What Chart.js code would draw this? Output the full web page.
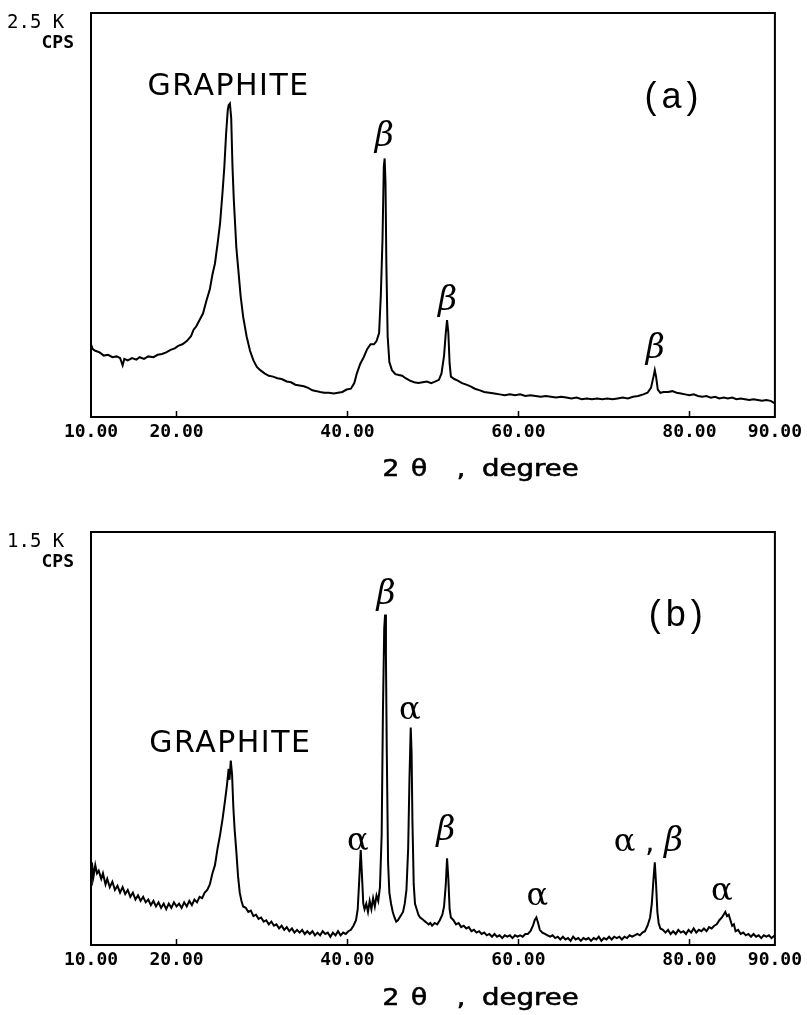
<!DOCTYPE html>
<html><head><meta charset="utf-8">
<script src="https://cdn.jsdelivr.net/npm/chart.js@4.4.0/dist/chart.umd.min.js"></script>
<style>
html,body{margin:0;padding:0;background:#fff;}
#wrap{position:relative;width:807px;height:1015px;overflow:hidden;}
canvas{position:absolute;left:0;}
#ca{top:0;}
#cb{top:500px;}
</style></head><body>
<div id="wrap"><canvas id="ca" width="807" height="500"></canvas><canvas id="cb" width="807" height="515"></canvas></div>
<script>
// ---- tick labels ----
const xTickValues = [10, 20, 40, 60, 80, 90];
const xTickLabels = ['10.00', '20.00', '40.00', '60.00', '80.00', '90.00'];
const yMaxA = 2.5;   // K CPS
const yMaxB = 1.5;   // K CPS

// ---- panel (a): 2θ (degree) and intensity (K CPS) ----
const thetaA = [10.0,10.2,10.5,11.0,11.5,12.0,12.5,13.0,13.4,13.7,13.9,14.3,14.8,15.3,15.7,16.2,16.7,17.3,17.8,18.3,18.8,19.3,19.8,20.2,20.7,21.2,21.7,22.0,22.3,22.7,23.1,23.5,23.9,24.2,24.5,24.8,25.1,25.4,25.6,25.8,26.0,26.1,26.25,26.4,26.55,26.7,26.8,27.0,27.2,27.5,27.8,28.2,28.6,29.0,29.4,29.8,30.3,30.8,31.3,31.8,32.3,32.9,33.4,33.9,34.4,34.9,35.4,35.9,36.4,36.8,37.3,37.8,38.4,38.9,39.4,39.9,40.4,40.8,41.1,41.5,41.9,42.3,42.7,43.1,43.4,43.7,43.9,44.1,44.25,44.35,44.45,44.55,44.7,44.9,45.2,45.6,46.0,46.4,46.8,47.3,47.8,48.3,48.8,49.3,49.8,50.3,50.7,51.0,51.3,51.5,51.65,51.8,51.95,52.1,52.5,52.9,53.4,53.9,54.4,54.9,55.5,56.0,56.6,57.2,57.8,58.4,59.0,59.6,60.2,60.8,61.4,62.0,62.6,63.2,63.8,64.4,65.0,65.6,66.2,66.8,67.4,68.0,68.6,69.2,69.8,70.4,71.0,71.6,72.2,72.8,73.4,74.0,74.6,75.1,75.5,75.8,75.95,76.1,76.3,76.6,77.0,77.5,78.0,78.5,79.0,79.5,80.0,80.5,81.0,81.5,82.0,82.5,83.0,83.5,84.0,84.5,85.0,85.5,86.0,86.5,87.0,87.5,88.0,88.5,89.0,89.5,90.0];
const cpsA = [0.45,0.42,0.41,0.40,0.38,0.385,0.37,0.375,0.365,0.32,0.36,0.35,0.365,0.355,0.37,0.36,0.375,0.37,0.385,0.39,0.40,0.415,0.425,0.44,0.45,0.47,0.50,0.54,0.56,0.60,0.64,0.72,0.79,0.88,0.95,1.07,1.20,1.40,1.55,1.75,1.90,1.93,1.94,1.85,1.55,1.35,1.25,1.05,0.93,0.75,0.62,0.50,0.41,0.35,0.31,0.29,0.27,0.255,0.25,0.24,0.235,0.22,0.215,0.20,0.195,0.19,0.18,0.165,0.16,0.155,0.15,0.15,0.145,0.15,0.155,0.17,0.175,0.21,0.27,0.33,0.37,0.42,0.45,0.45,0.47,0.52,0.75,1.10,1.55,1.60,1.45,0.95,0.50,0.34,0.29,0.265,0.26,0.255,0.24,0.225,0.215,0.21,0.215,0.22,0.21,0.22,0.23,0.27,0.38,0.52,0.60,0.52,0.33,0.25,0.235,0.225,0.21,0.20,0.19,0.175,0.165,0.155,0.15,0.145,0.14,0.135,0.14,0.135,0.14,0.13,0.135,0.13,0.125,0.13,0.125,0.12,0.125,0.12,0.115,0.12,0.11,0.115,0.11,0.115,0.11,0.115,0.11,0.115,0.12,0.115,0.125,0.13,0.14,0.15,0.18,0.25,0.29,0.25,0.17,0.15,0.155,0.155,0.16,0.15,0.145,0.14,0.135,0.14,0.13,0.125,0.13,0.12,0.125,0.115,0.12,0.115,0.12,0.11,0.115,0.11,0.105,0.11,0.105,0.10,0.105,0.10,0.085];

// ---- panel (b) ----
const thetaB = [10.0,10.1,10.3,10.5,10.7,10.9,11.2,11.4,11.7,11.9,12.2,12.5,12.8,13.1,13.4,13.7,14.0,14.3,14.6,14.9,15.2,15.5,15.8,16.1,16.4,16.7,17.0,17.3,17.6,17.9,18.2,18.5,18.8,19.1,19.4,19.7,20.0,20.3,20.6,20.9,21.2,21.5,21.8,22.1,22.4,22.7,23.0,23.3,23.6,23.9,24.2,24.5,24.8,25.1,25.4,25.7,25.9,26.1,26.2,26.35,26.5,26.65,26.8,27.0,27.2,27.4,27.6,27.8,28.1,28.4,28.7,29.0,29.3,29.6,29.9,30.2,30.5,30.8,31.1,31.4,31.7,32.0,32.3,32.6,32.9,33.2,33.5,33.8,34.1,34.4,34.7,35.0,35.3,35.6,35.9,36.2,36.5,36.8,37.1,37.4,37.7,38.0,38.3,38.6,38.9,39.2,39.5,39.8,40.1,40.4,40.7,41.0,41.2,41.4,41.55,41.7,41.85,42.0,42.2,42.4,42.6,42.8,43.0,43.2,43.4,43.6,43.8,44.0,44.15,44.3,44.4,44.5,44.6,44.75,44.9,45.1,45.3,45.5,45.7,45.9,46.1,46.3,46.5,46.7,46.9,47.1,47.25,47.4,47.5,47.6,47.75,47.9,48.1,48.3,48.5,48.7,48.9,49.1,49.3,49.5,49.7,49.9,50.2,50.5,50.8,51.1,51.3,51.5,51.65,51.8,51.95,52.1,52.4,52.7,53.0,53.3,53.6,53.9,54.2,54.5,54.8,55.1,55.4,55.7,56.0,56.3,56.6,56.9,57.2,57.5,57.8,58.1,58.4,58.7,59.0,59.3,59.6,59.9,60.2,60.5,60.8,61.1,61.4,61.7,61.9,62.1,62.3,62.5,62.8,63.1,63.4,63.7,64.0,64.3,64.6,64.9,65.2,65.5,65.8,66.1,66.4,66.7,67.0,67.3,67.6,67.9,68.2,68.5,68.8,69.1,69.4,69.7,70.0,70.3,70.6,70.9,71.2,71.5,71.8,72.1,72.4,72.7,73.0,73.3,73.6,73.9,74.2,74.5,74.8,75.1,75.4,75.6,75.8,75.95,76.1,76.25,76.4,76.6,76.9,77.2,77.5,77.8,78.1,78.4,78.7,79.0,79.3,79.6,79.9,80.2,80.5,80.8,81.1,81.4,81.7,82.0,82.3,82.6,82.9,83.2,83.5,83.8,84.0,84.2,84.4,84.6,84.8,85.0,85.2,85.4,85.7,86.0,86.3,86.6,86.9,87.2,87.5,87.8,88.1,88.4,88.7,89.0,89.3,89.6,90.0];
const cpsB = [0.22,0.30,0.25,0.29,0.26,0.27,0.24,0.26,0.22,0.24,0.21,0.23,0.20,0.215,0.19,0.21,0.185,0.20,0.175,0.19,0.165,0.18,0.16,0.175,0.155,0.165,0.145,0.16,0.14,0.155,0.135,0.15,0.13,0.15,0.135,0.155,0.14,0.15,0.135,0.155,0.14,0.16,0.145,0.165,0.155,0.175,0.17,0.19,0.20,0.22,0.26,0.29,0.35,0.40,0.46,0.53,0.58,0.64,0.60,0.67,0.62,0.50,0.42,0.34,0.25,0.19,0.16,0.14,0.135,0.12,0.125,0.105,0.11,0.095,0.10,0.085,0.09,0.075,0.085,0.07,0.075,0.06,0.07,0.055,0.065,0.05,0.06,0.045,0.055,0.045,0.055,0.04,0.05,0.04,0.05,0.035,0.045,0.035,0.05,0.04,0.045,0.03,0.045,0.035,0.05,0.035,0.045,0.04,0.05,0.055,0.07,0.09,0.13,0.25,0.345,0.25,0.15,0.13,0.15,0.12,0.16,0.13,0.17,0.14,0.18,0.16,0.21,0.40,0.85,1.15,1.20,1.05,0.70,0.30,0.19,0.15,0.12,0.10,0.085,0.09,0.10,0.11,0.12,0.15,0.20,0.35,0.60,0.79,0.70,0.45,0.22,0.15,0.13,0.11,0.10,0.095,0.09,0.085,0.08,0.075,0.08,0.07,0.08,0.075,0.09,0.11,0.14,0.22,0.315,0.24,0.13,0.10,0.09,0.075,0.08,0.065,0.07,0.06,0.065,0.05,0.055,0.045,0.05,0.04,0.045,0.035,0.04,0.03,0.04,0.03,0.035,0.025,0.035,0.03,0.035,0.025,0.035,0.03,0.035,0.03,0.04,0.04,0.05,0.07,0.09,0.10,0.08,0.055,0.045,0.04,0.035,0.03,0.035,0.025,0.03,0.02,0.03,0.02,0.025,0.015,0.03,0.02,0.025,0.015,0.025,0.02,0.025,0.015,0.025,0.02,0.03,0.015,0.025,0.02,0.03,0.02,0.03,0.025,0.03,0.02,0.03,0.025,0.035,0.03,0.035,0.04,0.035,0.045,0.05,0.07,0.10,0.15,0.24,0.30,0.22,0.12,0.08,0.06,0.055,0.045,0.055,0.04,0.05,0.04,0.055,0.045,0.05,0.04,0.055,0.045,0.06,0.045,0.055,0.05,0.06,0.05,0.065,0.06,0.07,0.075,0.09,0.10,0.11,0.12,0.105,0.11,0.09,0.07,0.075,0.05,0.055,0.04,0.045,0.035,0.04,0.03,0.04,0.03,0.035,0.025,0.035,0.03,0.035,0.025,0.035];

// ---- peak labels (text, 2θ, K CPS at text baseline) ----
const labelsA = [
  {t: 'GRAPHITE', x: 26.1, y: 1.99, kind: 'word'},
  {t: 'β', x: 44.3, y: 1.68, kind: 'beta'},
  {t: 'β', x: 51.7, y: 0.66, kind: 'beta'},
  {t: 'β', x: 76.0, y: 0.365, kind: 'beta'},
  {t: '(a)', x: 78.2, y: 1.91, kind: 'panel'}
];
const labelsB = [
  {t: 'GRAPHITE', x: 26.3, y: 0.70, kind: 'word'},
  {t: 'α', x: 41.2, y: 0.345, kind: 'alpha'},
  {t: 'β', x: 44.5, y: 1.24, kind: 'beta'},
  {t: 'α', x: 47.3, y: 0.82, kind: 'alpha'},
  {t: 'β', x: 51.5, y: 0.38, kind: 'beta'},
  {t: 'α', x: 62.2, y: 0.145, kind: 'alpha'},
  {t: 'α,β', x: 75.2, y: 0.34, kind: 'alphabeta'},
  {t: 'α', x: 83.8, y: 0.163, kind: 'alpha'},
  {t: '(b)', x: 78.7, y: 1.16, kind: 'panel'}
];

const FONTS = {
  word: '30px "DejaVu Sans"',
  panel: '36px "Liberation Sans"',
  beta: 'italic 33px "DejaVu Serif"',
  alpha: '32px "DejaVu Serif"'
};

function setSpacing(ctx, sp) { if ('letterSpacing' in ctx) ctx.letterSpacing = sp; }

function drawLabel(ctx, lab, px, py) {
  ctx.fillStyle = '#000';
  ctx.textBaseline = 'alphabetic';
  if (lab.kind === 'alphabeta') {
    const parts = [['α', FONTS.alpha], [' , ', '30px "DejaVu Sans"'], ['β', FONTS.beta]];
    let w = 0;
    parts.forEach(p => { ctx.font = p[1]; w += ctx.measureText(p[0]).width; });
    let x = px - w / 2;
    ctx.textAlign = 'left';
    parts.forEach(p => { ctx.font = p[1]; ctx.fillText(p[0], x, py); x += ctx.measureText(p[0]).width; });
    return;
  }
  ctx.font = FONTS[lab.kind];
  ctx.textAlign = 'center';
  let sp = '0px';
  if (lab.kind === 'word') sp = '1.5px';
  if (lab.kind === 'panel') sp = '5px';
  setSpacing(ctx, sp);
  ctx.fillText(lab.t, px, py);
  setSpacing(ctx, '0px');
}

// wide text: horizontally stretched, slightly emboldened
function wideText(ctx, s, x, y, sx) {
  ctx.save();
  ctx.translate(x, y);
  ctx.scale(sx, 1);
  ctx.fillText(s, 0, 0);
  ctx.lineWidth = 0.6;
  ctx.strokeText(s, 0, 0);
  ctx.restore();
}

function framePlugin(yTop, labels, titleY) {
  return {
    id: 'frame',
    afterDatasetsDraw(chart) {
      const {ctx, chartArea: a, scales} = chart;
      ctx.save();
      ctx.strokeStyle = '#000';
      ctx.lineWidth = 2;
      ctx.strokeRect(a.left, a.top, a.right - a.left, a.bottom - a.top);
      // inward tick marks
      ctx.lineWidth = 1.5;
      xTickValues.forEach(v => {
        if (v === scales.x.min || v === scales.x.max) return;
        const x = Math.round(scales.x.getPixelForValue(v)) + 0.5;
        ctx.beginPath(); ctx.moveTo(x, a.bottom); ctx.lineTo(x, a.bottom - 6); ctx.stroke();
      });
      // peak labels
      labels.forEach(l => drawLabel(ctx, l, scales.x.getPixelForValue(l.x), scales.y.getPixelForValue(l.y)));
      // y label
      ctx.fillStyle = '#000';
      ctx.textBaseline = 'alphabetic';
      ctx.textAlign = 'left';
      ctx.font = '19px "DejaVu Sans Mono"';
      ctx.fillText(yTop, 7, a.top + 15);
      ctx.textAlign = 'right';
      ctx.font = 'bold 18px "DejaVu Sans Mono"';
      ctx.fillText('CPS', 74, a.top + 35);
      // axis title: "2 θ , degree"
      ctx.font = '23px "DejaVu Sans"';
      const by = a.bottom + titleY;
      ctx.textAlign = 'center';
      wideText(ctx, '2', 391, by, 1.15);
      wideText(ctx, 'θ', 419, by, 1.15);
      wideText(ctx, ',', 461, by, 1.15);
      ctx.textAlign = 'left';
      wideText(ctx, 'degree', 482, by, 1.2);
      ctx.restore();
    }
  };
}

function makeChart(id, theta, cps, yMax, pad, axisH, yTop, labels, titleY) {
  const data = theta.map((t, i) => ({x: t, y: cps[i]}));
  return new Chart(document.getElementById(id), {
    type: 'line',
    data: {datasets: [{data, borderColor: '#000', borderWidth: 2, pointRadius: 0, tension: 0, fill: false}]},
    options: {
      responsive: false, animation: false, devicePixelRatio: 1,
      layout: {padding: pad},
      plugins: {legend: {display: false}, tooltip: {enabled: false}},
      scales: {
        x: {
          type: 'linear', min: 10, max: 90,
          afterBuildTicks: s => { s.ticks = xTickValues.map(v => ({value: v})); },
          afterFit: s => { s.height = axisH; },
          ticks: {
            autoSkip: false, maxRotation: 0, padding: 5, color: '#000',
            font: {family: 'DejaVu Sans Mono', weight: 'bold', size: 18},
            callback: v => xTickLabels[xTickValues.indexOf(v)]
          },
          grid: {display: false, drawTicks: false},
          border: {display: true, color: '#000', width: 2}
        },
        y: {type: 'linear', min: 0, max: yMax, display: false}
      }
    },
    plugins: [framePlugin(yTop, labels, titleY)]
  });
}

makeChart('ca', thetaA, cpsA, yMaxA, {top: 13, left: 91, right: 31, bottom: 0}, 83, '2.5 K', labelsA, 59);
makeChart('cb', thetaB, cpsB, yMaxB, {top: 32, left: 91, right: 29, bottom: 0}, 70, '1.5 K', labelsB, 60);
</script>
</body></html>
